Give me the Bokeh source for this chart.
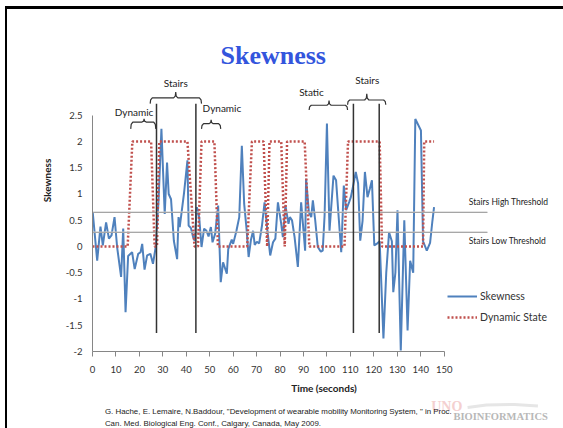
from bokeh.plotting import figure
from bokeh.layouts import column
from bokeh.models import Range1d, Legend, LegendItem, FixedTicker
from bokeh.core.properties import value
from bokeh.embed import file_html
from bokeh.resources import INLINE

# ---------------- data ----------------
time_s = [0.1, 2.0, 3.4, 4.4, 5.8, 7.0, 8.1, 9.4, 10.5, 12.2, 13.1, 14.1, 15.2, 16.9, 18.0,
          19.5, 20.5, 21.2, 22.2, 23.3, 24.7, 25.8, 27.0, 28.2, 29.4, 30.8, 31.8, 32.5, 33.5,
          34.7, 36.1, 36.7, 37.2, 38.0, 39.0, 40.5, 41.0, 42.0, 42.9, 43.6, 44.5, 45.5, 46.5,
          47.6, 48.6, 49.5, 50.5, 51.2, 52.3, 53.6, 54.7, 55.7, 57.3, 57.9, 59.4, 60.0, 61.4,
          62.6, 63.7, 64.7, 65.7, 66.6, 67.6, 68.5, 69.2, 70.1, 71.1, 72.3, 73.4, 74.5, 75.8,
          77.0, 78.0, 79.1, 80.5, 81.2, 82.3, 83.6, 84.2, 85.1, 86.2, 87.6, 89.0, 90.0, 90.7,
          91.1, 92.3, 93.3, 94.0, 95.0, 96.1, 97.4, 98.2, 99.0, 100.0, 101.1, 102.8, 103.9,
          105.1, 106.1, 107.2, 108.2, 109.5, 110.2, 110.8, 112.3, 113.3, 114.2, 115.2, 116.2,
          117.3, 118.3, 119.2, 120.2, 121.5, 122.5, 124.1, 125.3, 126.5, 127.7, 128.3, 129.2,
          130.1, 131.5, 133.0, 134.4, 135.5, 136.8, 137.7, 140.1, 141.0, 142.6, 144.0, 145.0,
          145.7]
skewness = [0.65, -0.27, 0.38, 0.02, 0.46, 0.15, 0.21, 0.56, -0.01, -0.58, 0.34, -1.25, -0.18,
            -0.11, -0.43, -0.14, -0.11, 0.05, -0.44, -0.17, -0.14, -0.33, 0.0, 0.9, 2.24, 0.62,
            1.6, 1.0, 0.9, 0.11, -0.24, 0.56, 0.37, 0.65, 1.0, 1.64, 0.4, 0.35, 0.18, 0.11, 0.75,
            0.56, -0.01, 0.34, 0.3, 0.19, 0.37, 0.08, 0.24, 0.78, -0.68, -0.3, -0.52, -0.05, 0.13,
            0.05, 0.3, 0.56, 1.92, 0.81, 0.34, -0.2, 0.13, 0.3, 0.03, 0.09, 0.06, 0.4, 0.84, 0.35,
            -0.17, 0.08, 0.15, 0.84, 0.43, 0.18, 0.78, 0.43, 0.56, 0.5, 0.18, -0.39, 0.84, 0.3,
            -0.08, 1.29, 0.65, 0.56, 0.88, 0.5, -0.01, -0.1, -0.08, 0.59, 2.34, 0.3, 1.35, 1.26,
            0.5, -0.11, 1.16, 0.69, 0.85, 0.94, 1.07, 1.42, 1.2, 0.11, 0.49, 1.42, 0.94, 1.1,
            1.26, 0.02, 0.06, 0.1, -1.75, -0.5, 0.27, 0.1, -0.87, -0.5, 0.69, -1.98, 0.5, -1.6,
            -0.27, -0.5, 2.43, 2.21, 0.1, -0.08, 0.07, 0.49, 0.75]

dyn_time = [0, 15, 17, 25, 26.5, 27.5, 28.5, 40.5, 43.5, 45, 46.5, 52, 53.5, 66, 68, 73, 74.5,
            75.5, 80.5, 82, 83, 90.5, 92.5, 107.5, 109, 122.5, 123.5, 141, 141.5, 145.7]
dyn_state = [0, 0, 2, 2, 0, 0, 2, 2, 0, 0, 2, 2, 0, 0, 2, 2, 0,
             2, 2, 0, 2, 2, 0, 0, 2, 2, 0, 0, 2, 2]

x_ticks = [0, 10, 20, 30, 40, 50, 60, 70, 80, 90, 100, 110, 120, 130, 140, 150]
y_ticks = [-2, -1.5, -1, -0.5, 0, 0.5, 1, 1.5, 2, 2.5]
y_tick_labels = ["-2", "-1.5", "-1", "-0.5", "0", "0.5", "1", "1.5", "2", "2.5"]

stairs_marks = [27.3, 44.1, 111.3, 122.3]
stairs_mark_low = -1.65
stairs_mark_high = 2.72

threshold_values = [0.65, 0.27]
threshold_labels = ["Stairs High Threshold", "Stairs Low Threshold"]
threshold_label_y = [0.84, 0.11]
threshold_end = 168.4
threshold_label_x = 160.5

brace_labels = ["Dynamic", "Stairs", "Dynamic", "Static", "Stairs"]
brace_start = [16.3, 24.6, 46.5, 92.4, 108.8]
brace_end = [27.0, 46.5, 54.7, 108.8, 125.1]
brace_tip = [22.0, 35.5, 50.6, 100.9, 117.0]
brace_end_y = [2.24, 2.72, 2.24, 2.60, 2.70]
brace_flat_y = [2.37, 2.83, 2.34, 2.69, 2.79]
brace_tip_y = [2.43, 2.94, 2.41, 2.78, 2.91]
brace_label_x = [17.7, 35.5, 55.2, 93.4, 117.2]
brace_label_y = [2.56, 3.11, 2.63, 2.94, 3.18]

title_text = "Skewness"
citation = ['G. Hache, E. Lemaire, N.Baddour, "Development of  wearable mobility Monitoring System, " in Proc.',
            "Can. Med. Biological Eng. Conf., Calgary, Canada, May 2009."]

BLUE = "#4F81BD"
RED = "#C0504D"
FONT = "Lato"

# ---------------- chart figure ----------------
p = figure(width=556, height=389, x_range=Range1d(0, 197.5), y_range=Range1d(-2, 4.514),
           output_backend="svg", toolbar_location=None, title=None,
           min_border_left=85, min_border_right=8, min_border_top=0, min_border_bottom=47)
p.outline_line_color = None
p.grid.visible = False
p.background_fill_color = "white"
p.border_fill_color = "white"

xa = p.xaxis[0]
xa.ticker = FixedTicker(ticks=x_ticks)
xa.bounds = (0, 150)
xa.axis_line_color = "#868686"
xa.major_tick_line_color = "#868686"
xa.major_tick_out = 5
xa.major_tick_in = 0
xa.minor_tick_line_color = None
xa.major_label_text_font = FONT
xa.major_label_text_font_size = "9.5px"
xa.major_label_text_color = "#333333"
xa.major_label_standoff = 9
xa.axis_label = "Time (seconds)"
xa.axis_label_text_font = FONT
xa.axis_label_text_font_style = "bold"
xa.axis_label_text_font_size = "10px"
xa.axis_label_text_color = "#222222"
xa.axis_label_standoff = 6

ya = p.yaxis[0]
ya.ticker = FixedTicker(ticks=y_ticks)
ya.bounds = (-2, 2.5)
ya.major_label_overrides = {t: lab for t, lab in zip(y_ticks, y_tick_labels)}
ya.axis_line_color = "#868686"
ya.major_tick_line_color = None
ya.major_tick_out = 0
ya.major_tick_in = 0
ya.minor_tick_line_color = None
ya.major_label_text_font = FONT
ya.major_label_text_font_size = "9.5px"
ya.major_label_text_color = "#333333"
ya.major_label_standoff = 10
ya.axis_label = "Skewness"
ya.axis_label_text_font = FONT
ya.axis_label_text_font_style = "bold"
ya.axis_label_text_font_size = "10px"
ya.axis_label_text_color = "#222222"
ya.axis_label_standoff = 10

# series
r_skew = p.line(time_s, skewness, line_color=BLUE, line_width=2)
r_dyn = p.line(dyn_time, dyn_state, line_color=RED, line_width=2.5, line_dash="2 2")

# thresholds
for tv in threshold_values:
    p.line([0, threshold_end], [tv, tv], line_color="#e2e2e2", line_width=1.5)
    p.line([0, threshold_end], [tv, tv], line_color="#333333", line_width=0.8, line_dash="1 1")
p.text(x=[threshold_label_x] * len(threshold_labels), y=threshold_label_y, text=threshold_labels,
       text_font=value(FONT), text_font_size="8.5px", text_color="#222222",
       text_align="left", text_baseline="middle")

# stairs markers
for sm in stairs_marks:
    p.line([sm, sm], [stairs_mark_low, stairs_mark_high], line_color="#333333", line_width=1.5)

# braces
bxs, bys = [], []
for x0, x1, xm, ye, yf, yt in zip(brace_start, brace_end, brace_tip, brace_end_y, brace_flat_y, brace_tip_y):
    a = yf - ye
    b = yt - yf
    d = 0.9
    bxs.append([x0, x0 + 0.2, x0 + d, xm - d, xm - 0.2, xm, xm + 0.2, xm + d, x1 - d, x1 - 0.2, x1])
    bys.append([ye, yf - 0.35 * a, yf, yf, yf + 0.3 * b, yt, yf + 0.3 * b, yf, yf, yf - 0.35 * a, ye])
p.multi_line(bxs, bys, line_color="#333333", line_width=1.2)
p.text(x=brace_label_x, y=brace_label_y, text=brace_labels, text_font=value(FONT),
       text_font_size="10px", text_color="#222222", text_align="center", text_baseline="middle")

# title
p.text(x=[77.1], y=[3.64], text=[title_text], text_font=value("Liberation Serif"),
       text_font_style="bold", text_font_size="26px", text_color="#3355DD",
       text_align="center", text_baseline="middle")

# legend
legend = Legend(items=[LegendItem(label="Skewness", renderers=[r_skew]),
                       LegendItem(label="Dynamic State", renderers=[r_dyn])],
                location=(355, 24))
legend.border_line_color = None
legend.background_fill_alpha = 0
legend.padding = 0
legend.margin = 0
legend.spacing = 1
legend.glyph_width = 30
legend.glyph_height = 20
legend.label_height = 20
legend.label_standoff = 3
legend.label_text_font = FONT
legend.label_text_font_size = "10.5px"
legend.label_text_color = "#333333"
p.add_layout(legend)

# ---------------- footer figure (citation + logo) ----------------
f = figure(width=556, height=30, x_range=p.x_range, y_range=Range1d(428, 398),
           output_backend="svg", toolbar_location=None, title=None,
           x_axis_type=None, y_axis_type=None,
           min_border_left=85, min_border_right=8, min_border_top=0, min_border_bottom=0)
f.outline_line_color = None
f.grid.visible = False
f.text(x=[144.5], y=[406.0], text=["UNO"], text_font=value("Liberation Serif"),
       text_font_style="bold", text_font_size="14px", text_color="#f4d0d0",
       text_align="left", text_baseline="middle")
f.line([160.0, 168.0, 180.0, 190.0], [407.0, 404.5, 404.0, 405.5], line_color="#e6e6e6", line_width=3)
f.text(x=[5.3, 5.3], y=[411.0, 422.5], text=citation, text_font=value("Liberation Sans"),
       text_font_size="7.9px", text_color="#222222", text_align="left", text_baseline="middle")
f.text(x=[174.1], y=[416.0], text=["BIOINFORMATICS"], text_font=value("Liberation Serif"),
       text_font_style="bold", text_font_size="10.5px", text_color="#b8b8b8",
       text_align="center", text_baseline="middle")

layout = column(p, f, spacing=0,
                styles={"margin-left": "5px", "margin-top": "6px",
                        "border-left": "2px solid black", "border-top": "3px solid black"})

open("out.html", "w").write(file_html(layout, INLINE))
